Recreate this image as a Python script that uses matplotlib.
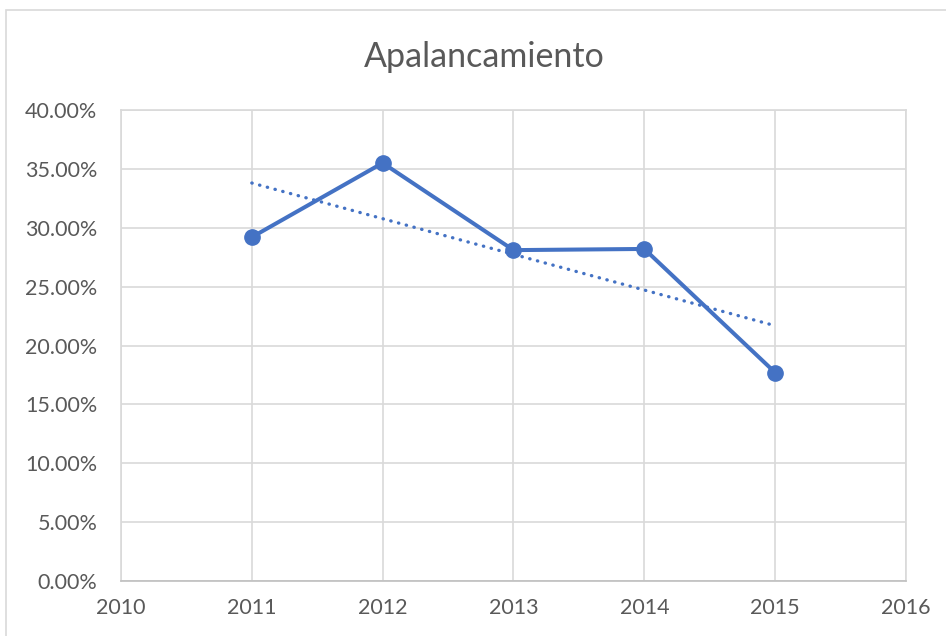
import matplotlib
matplotlib.use("Agg")
import matplotlib.pyplot as plt
import numpy as np
from matplotlib.ticker import FuncFormatter, MultipleLocator
from matplotlib.patches import Rectangle

years = [2011, 2012, 2013, 2014, 2015]
apalancamiento = [0.292, 0.355, 0.281, 0.282, 0.177]
title = "Apalancamiento"

plt.rcParams['font.family'] = ['Lato', 'DejaVu Sans']
blue = "#4472C4"
grid_c = "#D9D9D9"
text_c = "#595959"

fig = plt.figure(figsize=(9.46, 6.36), dpi=100)
fig.patches.append(Rectangle((6/946, -0.1), 1.2, 1 - 10/636 + 0.1, transform=fig.transFigure,
                             fill=False, edgecolor="#D9D9D9", lw=1.2))
ax = fig.add_axes([121/946, 55/636, (906-121)/946, (581-110)/636])

ax.plot(years, apalancamiento, color=blue, lw=2.9, marker='o', markersize=11,
        solid_capstyle='round', zorder=3)

coef = np.polyfit(years, apalancamiento, 1)
xt = np.array([years[0], years[-1]])
ax.plot(xt, np.polyval(coef, xt), color=blue, lw=2.4, linestyle=(0, (0.1, 2.3)),
        dash_capstyle='round', zorder=2)

ax.set_xlim(2010, 2016)
ax.set_ylim(0, 0.40)
ax.xaxis.set_major_locator(MultipleLocator(1))
ax.yaxis.set_major_locator(MultipleLocator(0.05))
ax.yaxis.set_major_formatter(FuncFormatter(lambda v, p: f"{v*100:.2f}%"))
ax.xaxis.set_major_formatter(FuncFormatter(lambda v, p: f"{int(round(v))}"))
ax.grid(True, color=grid_c, lw=1.2)
ax.set_axisbelow(True)
for s in ax.spines.values():
    s.set_color(grid_c)
    s.set_linewidth(1.2)
ax.spines['bottom'].set_color("#BFBFBF")
ax.tick_params(length=0, labelsize=15.5, colors=text_c)
ax.tick_params(axis='y', pad=17)
ax.tick_params(axis='x', pad=12)

fig.text(484/946, 1 - 57/636, title, ha='center', va='center', fontsize=24.5, color=text_c)

fig.savefig("out.png", dpi=100)
